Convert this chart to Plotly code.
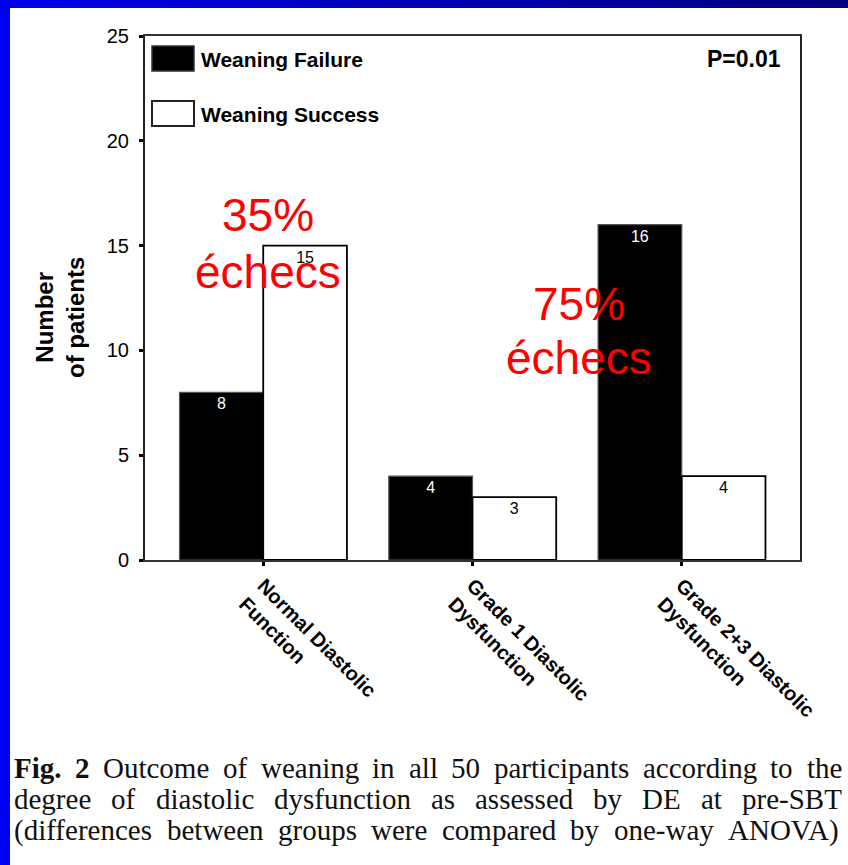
import plotly.graph_objects as go

categories = ["Normal Diastolic<br>Function", "Grade 1 Diastolic<br>Dysfunction", "Grade 2+3 Diastolic<br>Dysfunction"]
failure = [8, 4, 16]
success = [15, 3, 4]
series_names = ["Weaning Failure", "Weaning Success"]
y_ticks = [0, 5, 10, 15, 20, 25]
p_text = "P=0.01"
red_labels = [("35%", "échecs"), ("75%", "échecs")]
caption_lines = [
    "<b>Fig.</b> <b>2</b> Outcome of weaning in all 50 participants according to the",
    "degree of diastolic dysfunction as assessed by DE at pre-SBT",
    "(differences between groups were compared by one-way ANOVA)",
]

W, H = 848, 865
L, R, T, B = 145, 48, 36, 305
PW, PH = W - L - R, H - T - B


def px(x):
    return (x - L) / PW


def py(y):
    return (H - B - y) / PH


SANS = "Liberation Sans, Arial, Helvetica, sans-serif"
SERIF = "Liberation Serif, Times New Roman, serif"

fig = go.Figure()
fig.add_trace(go.Bar(
    x=categories, y=failure, name=series_names[0],
    marker=dict(color="black", line=dict(color="#555", width=1.2)),
    text=[str(v) for v in failure], textposition="inside", insidetextanchor="end",
    textangle=0, insidetextfont=dict(color="white", size=16, family=SANS),
))
fig.add_trace(go.Bar(
    x=categories, y=success, name=series_names[1],
    marker=dict(color="white", line=dict(color="black", width=1.8)),
    text=[str(v) for v in success], textposition="inside", insidetextanchor="end",
    textangle=0, insidetextfont=dict(color="black", size=16, family=SANS),
))

fig.update_layout(
    width=W, height=H, margin=dict(l=L, r=R, t=T, b=B, pad=0),
    paper_bgcolor="white", plot_bgcolor="white",
    barmode="group", bargap=0.2, bargroupgap=0,
    showlegend=False,
    font=dict(family=SANS, color="black"),
)
fig.update_xaxes(
    range=[-0.565, 2.565], showgrid=False, zeroline=False,
    showline=True, linecolor="#333", linewidth=2, mirror=True,
    ticks="outside", ticklen=4, tickwidth=3, tickcolor="black",
    tickangle=45, tickfont=dict(size=20, family=SANS, weight="bold"),
)
fig.update_yaxes(
    range=[0, 25], tickvals=y_ticks, showgrid=False, zeroline=False,
    showline=True, linecolor="#222", linewidth=2, mirror=True,
    ticks="outside", ticklen=4, tickwidth=3, tickcolor="black",
    tickfont=dict(size=20, family=SANS), ticklabelstandoff=6,
)

shapes = []
ann = []
# y-axis title
ann.append(dict(x=px(60), y=py(318), xref="paper", yref="paper", text="<b>Number<br>of patients</b>",
                textangle=-90, showarrow=False, font=dict(size=24, family=SANS, color="black"),
                xanchor="center", yanchor="middle"))
# legend boxes
shapes.append(dict(type="rect", xref="paper", yref="paper", x0=px(152), x1=px(194), y0=py(71), y1=py(46),
                   fillcolor="black", line=dict(color="#333", width=1.5)))
shapes.append(dict(type="rect", xref="paper", yref="paper", x0=px(152), x1=px(194), y0=py(126), y1=py(101),
                   fillcolor="white", line=dict(color="#222", width=2)))
ann.append(dict(x=px(199), y=py(60), xref="paper", yref="paper", text="<b>" + series_names[0] + "</b>",
                showarrow=False, xanchor="left", yanchor="middle", font=dict(size=21, family=SANS, color="black")))
ann.append(dict(x=px(199), y=py(115), xref="paper", yref="paper", text="<b>" + series_names[1] + "</b>",
                showarrow=False, xanchor="left", yanchor="middle", font=dict(size=21, family=SANS, color="black")))
ann.append(dict(x=px(783), y=py(59), xref="paper", yref="paper", text="<b>" + p_text + "</b>",
                showarrow=False, xanchor="right", yanchor="middle", font=dict(size=23, family=SANS, color="black")))

# red annotations
red_pos = [(268, 215, 272), (579, 304, 358)]
for (t1, t2), (cx, y1, y2) in zip(red_labels, red_pos):
    ann.append(dict(x=px(cx), y=py(y1), xref="paper", yref="paper", text=t1, showarrow=False,
                    xanchor="center", yanchor="middle", font=dict(size=46, family=SANS, color="#ff0000")))
    ann.append(dict(x=px(cx), y=py(y2), xref="paper", yref="paper", text=t2, showarrow=False,
                    xanchor="center", yanchor="middle", font=dict(size=46, family=SANS, color="#ff0000")))

# justified caption using Times metrics
TR = {" ": 250, "(": 333, ")": 333, "-": 333, ".": 250, ",": 250,
      "A": 722, "B": 667, "D": 722, "E": 611, "F": 556, "N": 722, "O": 722, "S": 556, "T": 611, "V": 722,
      "a": 444, "b": 500, "c": 444, "d": 500, "e": 444, "f": 333, "g": 500, "h": 500, "i": 278, "j": 278,
      "k": 500, "l": 278, "m": 778, "n": 500, "o": 500, "p": 500, "q": 500, "r": 333, "s": 389, "t": 278,
      "u": 500, "v": 500, "w": 722, "x": 500, "y": 500, "z": 444}
TB = {"F": 611, "i": 278, "g": 500, ".": 250, "2": 500}


def word_width(w, size):
    bold = w.startswith("<b>")
    plain = w.replace("<b>", "").replace("</b>", "")
    tbl = TB if bold else TR
    return sum(tbl.get(c, TR.get(c, 500)) for c in plain) * size / 1000.0


cap_size = 29
x_left, x_right = 14, 842
baselines = [777, 808, 839]
for line, base in zip(caption_lines, baselines):
    words = line.split(" ")
    widths = [word_width(w, cap_size) for w in words]
    gap = (x_right - x_left - sum(widths)) / (len(words) - 1)
    x = x_left
    for w, ww in zip(words, widths):
        ann.append(dict(x=px(x), y=py(base - 9), xref="paper", yref="paper", text=w, showarrow=False,
                        xanchor="left", yanchor="middle", xshift=-2,
                        font=dict(size=cap_size, family=SERIF, color="#111")))
        x += ww + gap

# blue frame
shapes.append(dict(type="rect", xref="paper", yref="paper", x0=px(0), x1=px(10), y0=py(H), y1=py(0),
                   fillcolor="#0000f2", line=dict(width=0), layer="above"))
n = 40
for i in range(n):
    f = i / (n - 1)
    b = int(235 - f * (235 - 128))
    shapes.append(dict(type="rect", xref="paper", yref="paper", x0=px(W * i / n), x1=px(W * (i + 1) / n + 1),
                       y0=py(8), y1=py(0), fillcolor=f"rgb(0,0,{b})", line=dict(width=0), layer="above"))

fig.update_layout(shapes=shapes, annotations=ann)
fig.write_html("out.html")
